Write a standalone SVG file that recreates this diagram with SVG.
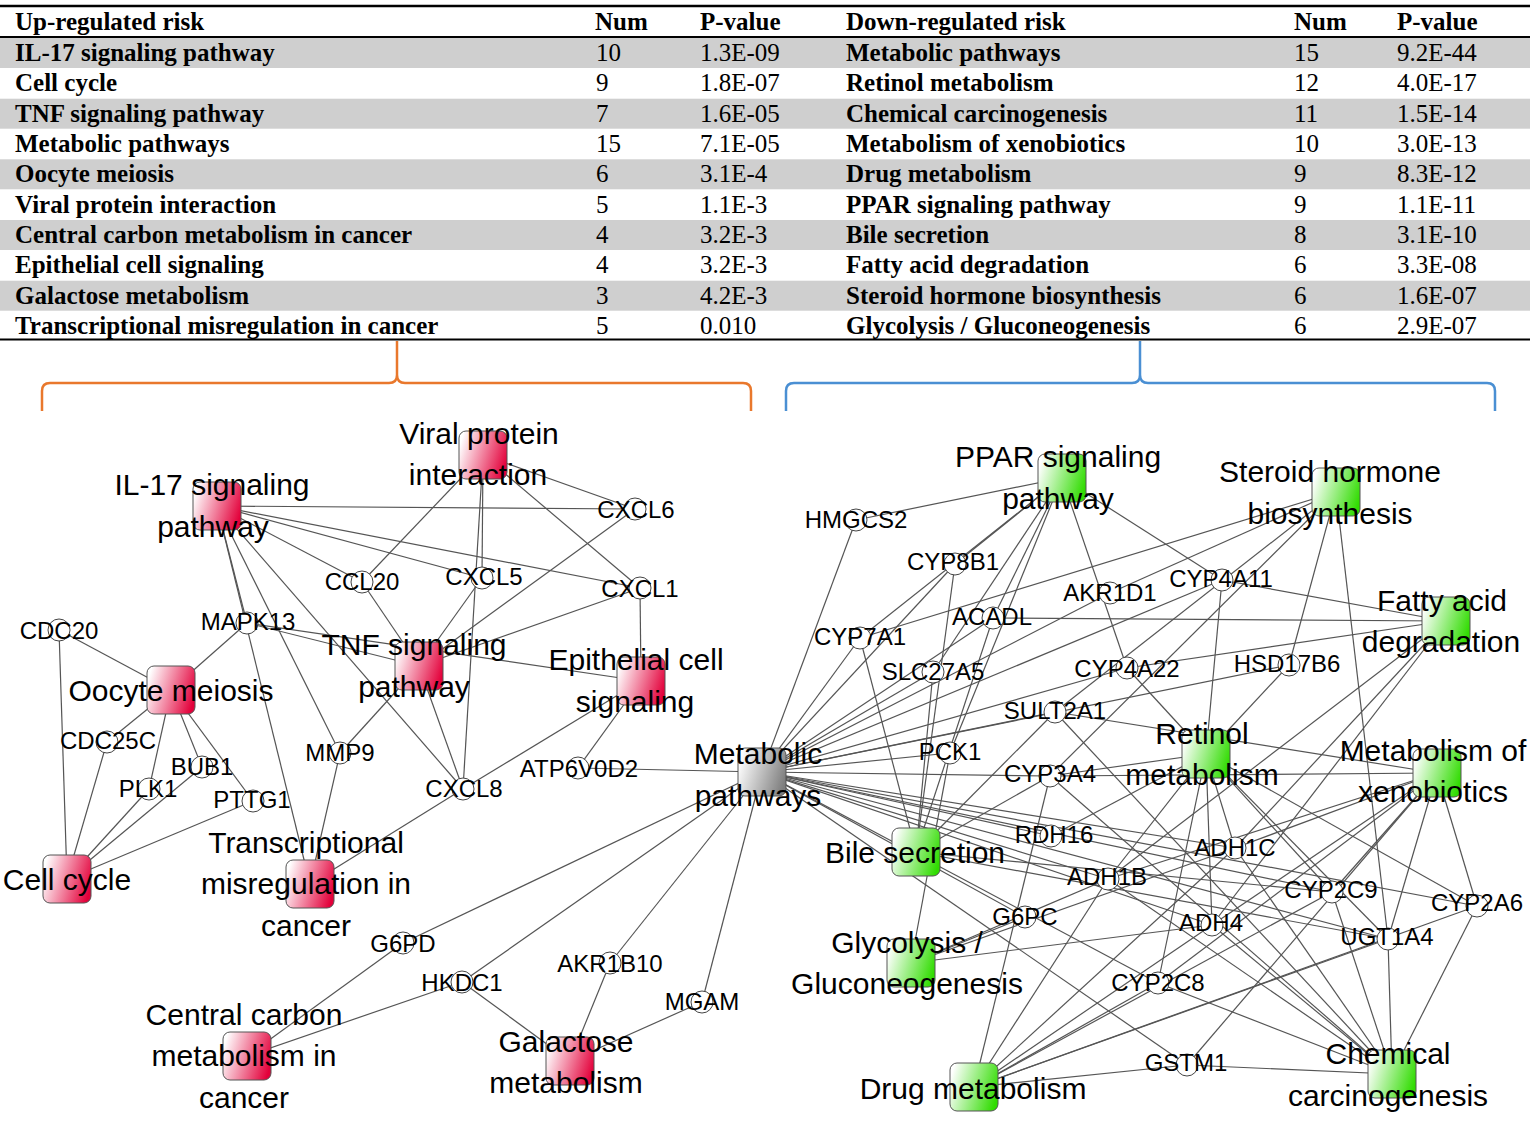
<svg xmlns="http://www.w3.org/2000/svg" width="1535" height="1121" viewBox="0 0 1535 1121">
<defs>
<linearGradient id="gr" x1="0" y1="0.35" x2="1" y2="0.65"><stop offset="0" stop-color="#ffffff"/><stop offset="1" stop-color="#e3003a"/></linearGradient>
<linearGradient id="gg" x1="0" y1="0.35" x2="1" y2="0.65"><stop offset="0" stop-color="#ffffff"/><stop offset="1" stop-color="#30dc00"/></linearGradient>
<linearGradient id="gy" x1="0" y1="0.35" x2="1" y2="0.65"><stop offset="0" stop-color="#ffffff"/><stop offset="1" stop-color="#7d7d7d"/></linearGradient>
<style>
.tb{font-family:"Liberation Serif","Times New Roman",serif;font-size:25px;font-weight:bold;fill:#000}
.tn{font-family:"Liberation Serif","Times New Roman",serif;font-size:25px;fill:#000}
.pl{font-family:"Liberation Sans",Arial,sans-serif;font-size:30px;text-anchor:middle;fill:#000}
.gl{font-family:"Liberation Sans",Arial,sans-serif;font-size:24px;text-anchor:middle;fill:#000}
.gene{fill:#fff;stroke:#444;stroke-width:1}
.red{fill:url(#gr);stroke:#555;stroke-width:1}
.grn{fill:url(#gg);stroke:#555;stroke-width:1}
.gry{fill:url(#gy);stroke:#555;stroke-width:1}
.band{fill:#cfcfcf}
.rule{stroke:#000;fill:none}
.edges line{stroke:#555;stroke-width:1.2}
.brace{fill:none;stroke-width:2.5;stroke-linejoin:round}
</style>
</defs>
<rect width="1535" height="1121" fill="#fff"/>

<g id="table">
<rect class="band" x="0" y="38" width="1530" height="30"/>
<rect class="band" x="0" y="98.7" width="1530" height="30"/>
<rect class="band" x="0" y="159.3" width="1530" height="30"/>
<rect class="band" x="0" y="220" width="1530" height="30"/>
<rect class="band" x="0" y="280.7" width="1530" height="30"/>
<line class="rule" x1="0" y1="6" x2="1530" y2="6" stroke-width="2.5"/>
<line class="rule" x1="0" y1="37" x2="1530" y2="37" stroke-width="2"/>
<line class="rule" x1="0" y1="339.5" x2="1530" y2="339.5" stroke-width="2"/>
<text class="tb" x="15" y="30">Up-regulated risk</text>
<text class="tb" x="595" y="30">Num</text>
<text class="tb" x="700" y="30">P-value</text>
<text class="tb" x="846" y="30">Down-regulated risk</text>
<text class="tb" x="1294" y="30">Num</text>
<text class="tb" x="1397" y="30">P-value</text>

<text class="tb" x="15" y="61">IL-17 signaling pathway</text><text class="tn" x="596" y="61">10</text><text class="tn" x="700" y="61">1.3E-09</text>
<text class="tb" x="846" y="61">Metabolic pathways</text><text class="tn" x="1294" y="61">15</text><text class="tn" x="1397" y="61">9.2E-44</text>

<text class="tb" x="15" y="91.3">Cell cycle</text><text class="tn" x="596" y="91.3">9</text><text class="tn" x="700" y="91.3">1.8E-07</text>
<text class="tb" x="846" y="91.3">Retinol metabolism</text><text class="tn" x="1294" y="91.3">12</text><text class="tn" x="1397" y="91.3">4.0E-17</text>

<text class="tb" x="15" y="121.7">TNF signaling pathway</text><text class="tn" x="596" y="121.7">7</text><text class="tn" x="700" y="121.7">1.6E-05</text>
<text class="tb" x="846" y="121.7">Chemical carcinogenesis</text><text class="tn" x="1294" y="121.7">11</text><text class="tn" x="1397" y="121.7">1.5E-14</text>

<text class="tb" x="15" y="152">Metabolic pathways</text><text class="tn" x="596" y="152">15</text><text class="tn" x="700" y="152">7.1E-05</text>
<text class="tb" x="846" y="152">Metabolism of xenobiotics</text><text class="tn" x="1294" y="152">10</text><text class="tn" x="1397" y="152">3.0E-13</text>

<text class="tb" x="15" y="182.3">Oocyte meiosis</text><text class="tn" x="596" y="182.3">6</text><text class="tn" x="700" y="182.3">3.1E-4</text>
<text class="tb" x="846" y="182.3">Drug metabolism</text><text class="tn" x="1294" y="182.3">9</text><text class="tn" x="1397" y="182.3">8.3E-12</text>

<text class="tb" x="15" y="212.7">Viral protein interaction</text><text class="tn" x="596" y="212.7">5</text><text class="tn" x="700" y="212.7">1.1E-3</text>
<text class="tb" x="846" y="212.7">PPAR signaling pathway</text><text class="tn" x="1294" y="212.7">9</text><text class="tn" x="1397" y="212.7">1.1E-11</text>

<text class="tb" x="15" y="243">Central carbon metabolism in cancer</text><text class="tn" x="596" y="243">4</text><text class="tn" x="700" y="243">3.2E-3</text>
<text class="tb" x="846" y="243">Bile secretion</text><text class="tn" x="1294" y="243">8</text><text class="tn" x="1397" y="243">3.1E-10</text>

<text class="tb" x="15" y="273.3">Epithelial cell signaling</text><text class="tn" x="596" y="273.3">4</text><text class="tn" x="700" y="273.3">3.2E-3</text>
<text class="tb" x="846" y="273.3">Fatty acid degradation</text><text class="tn" x="1294" y="273.3">6</text><text class="tn" x="1397" y="273.3">3.3E-08</text>

<text class="tb" x="15" y="303.7">Galactose metabolism</text><text class="tn" x="596" y="303.7">3</text><text class="tn" x="700" y="303.7">4.2E-3</text>
<text class="tb" x="846" y="303.7">Steroid hormone biosynthesis</text><text class="tn" x="1294" y="303.7">6</text><text class="tn" x="1397" y="303.7">1.6E-07</text>

<text class="tb" x="15" y="334">Transcriptional misregulation in cancer</text><text class="tn" x="596" y="334">5</text><text class="tn" x="700" y="334">0.010</text>
<text class="tb" x="846" y="334">Glycolysis / Gluconeogenesis</text><text class="tn" x="1294" y="334">6</text><text class="tn" x="1397" y="334">2.9E-07</text>
</g>

<g id="braces">
<path class="brace" stroke="#e9782c" d="M42,411 V391 Q42,383 50,383 H389 Q397,383 397,375 V341 M397,375 Q397,383 405,383 H743 Q751,383 751,391 V411"/>
<path class="brace" stroke="#4a8fd3" d="M786,411 V391 Q786,383 794,383 H1132 Q1140,383 1140,375 V341 M1140,375 Q1140,383 1148,383 H1487 Q1495,383 1495,391 V411"/>
</g>

<g id="connectors" class="edges">
<!-- IL-17 -->
<line x1="217" y1="506" x2="635" y2="509"/>
<line x1="217" y1="506" x2="640" y2="588"/>
<line x1="217" y1="506" x2="482" y2="578"/>
<line x1="217" y1="506" x2="362" y2="582"/>
<line x1="217" y1="506" x2="247" y2="623"/>
<line x1="217" y1="506" x2="340" y2="753"/>
<line x1="217" y1="506" x2="463" y2="789"/>
<line x1="217" y1="506" x2="310" y2="884"/>
<!-- Viral -->
<line x1="483" y1="455" x2="362" y2="582"/>
<line x1="483" y1="455" x2="482" y2="578"/>
<line x1="483" y1="455" x2="463" y2="789"/>
<line x1="483" y1="455" x2="635" y2="509"/>
<line x1="483" y1="455" x2="640" y2="588"/>
<!-- TNF -->
<line x1="419" y1="666" x2="362" y2="582"/>
<line x1="419" y1="666" x2="482" y2="578"/>
<line x1="419" y1="666" x2="635" y2="509"/>
<line x1="419" y1="666" x2="640" y2="588"/>
<line x1="419" y1="666" x2="247" y2="623"/>
<line x1="419" y1="666" x2="340" y2="753"/>
<line x1="419" y1="666" x2="463" y2="789"/>
<!-- Epithelial -->
<line x1="641" y1="681" x2="640" y2="588"/>
<line x1="641" y1="681" x2="247" y2="623"/>
<line x1="641" y1="681" x2="463" y2="789"/>
<line x1="641" y1="681" x2="578" y2="768"/>
<!-- Oocyte -->
<line x1="171" y1="690" x2="59" y2="630"/>
<line x1="171" y1="690" x2="247" y2="623"/>
<line x1="171" y1="690" x2="107" y2="742"/>
<line x1="171" y1="690" x2="149" y2="789"/>
<line x1="171" y1="690" x2="202" y2="767"/>
<line x1="171" y1="690" x2="253" y2="801"/>
<!-- Cell cycle -->
<line x1="67" y1="879" x2="59" y2="630"/>
<line x1="67" y1="879" x2="107" y2="742"/>
<line x1="67" y1="879" x2="149" y2="789"/>
<line x1="67" y1="879" x2="202" y2="767"/>
<line x1="67" y1="879" x2="253" y2="801"/>
<!-- Transcriptional -->
<line x1="310" y1="884" x2="340" y2="753"/>
<line x1="310" y1="884" x2="463" y2="789"/>
<!-- Central carbon -->
<line x1="247" y1="1056" x2="403" y2="943"/>
<line x1="247" y1="1056" x2="462" y2="982"/>
<!-- Galactose -->
<line x1="570" y1="1061" x2="462" y2="982"/>
<line x1="570" y1="1061" x2="610" y2="963"/>
<line x1="570" y1="1061" x2="702" y2="1002"/>
<!-- Metabolic left -->
<line x1="762" y1="772" x2="578" y2="768"/>
<line x1="762" y1="772" x2="403" y2="943"/>
<line x1="762" y1="772" x2="462" y2="982"/>
<line x1="762" y1="772" x2="610" y2="963"/>
<line x1="762" y1="772" x2="702" y2="1002"/>
<!-- Metabolic right -->
<line x1="762" y1="772" x2="856" y2="520"/>
<line x1="762" y1="772" x2="955" y2="564"/>
<line x1="762" y1="772" x2="860" y2="638"/>
<line x1="762" y1="772" x2="993" y2="618"/>
<line x1="762" y1="772" x2="1110" y2="593"/>
<line x1="762" y1="772" x2="1222" y2="580"/>
<line x1="762" y1="772" x2="933" y2="672"/>
<line x1="762" y1="772" x2="1127" y2="668"/>
<line x1="762" y1="772" x2="1289" y2="665"/>
<line x1="762" y1="772" x2="1055" y2="712"/>
<line x1="762" y1="772" x2="950" y2="753"/>
<line x1="762" y1="772" x2="1050" y2="776"/>
<line x1="762" y1="772" x2="1051" y2="836"/>
<line x1="762" y1="772" x2="1235" y2="848"/>
<line x1="762" y1="772" x2="1108" y2="879"/>
<line x1="762" y1="772" x2="1332" y2="892"/>
<line x1="762" y1="772" x2="1477" y2="906"/>
<line x1="762" y1="772" x2="1025" y2="917"/>
<line x1="762" y1="772" x2="1212" y2="925"/>
<line x1="762" y1="772" x2="1388" y2="939"/>
<line x1="762" y1="772" x2="1158" y2="983"/>
<line x1="762" y1="772" x2="1187" y2="1065"/>
<!-- PPAR -->
<line x1="1062" y1="478" x2="856" y2="520"/>
<line x1="1062" y1="478" x2="955" y2="564"/>
<line x1="1062" y1="478" x2="860" y2="638"/>
<line x1="1062" y1="478" x2="993" y2="618"/>
<line x1="1062" y1="478" x2="933" y2="672"/>
<line x1="1062" y1="478" x2="950" y2="753"/>
<line x1="1062" y1="478" x2="1222" y2="580"/>
<line x1="1062" y1="478" x2="1127" y2="668"/>
<!-- Steroid -->
<line x1="1336" y1="492" x2="860" y2="638"/>
<line x1="1336" y1="492" x2="1110" y2="593"/>
<line x1="1336" y1="492" x2="1289" y2="665"/>
<line x1="1336" y1="492" x2="1050" y2="776"/>
<line x1="1336" y1="492" x2="1388" y2="939"/>
<line x1="1336" y1="492" x2="1055" y2="712"/>
<!-- Fatty acid -->
<line x1="1446" y1="621" x2="993" y2="618"/>
<line x1="1446" y1="621" x2="1222" y2="580"/>
<line x1="1446" y1="621" x2="1127" y2="668"/>
<line x1="1446" y1="621" x2="1108" y2="879"/>
<line x1="1446" y1="621" x2="1235" y2="848"/>
<line x1="1446" y1="621" x2="1212" y2="925"/>
<!-- Retinol -->
<line x1="1206" y1="754" x2="1222" y2="580"/>
<line x1="1206" y1="754" x2="1127" y2="668"/>
<line x1="1206" y1="754" x2="1289" y2="665"/>
<line x1="1206" y1="754" x2="1051" y2="836"/>
<line x1="1206" y1="754" x2="1108" y2="879"/>
<line x1="1206" y1="754" x2="1235" y2="848"/>
<line x1="1206" y1="754" x2="1212" y2="925"/>
<line x1="1206" y1="754" x2="1050" y2="776"/>
<line x1="1206" y1="754" x2="1332" y2="892"/>
<line x1="1206" y1="754" x2="1158" y2="983"/>
<line x1="1206" y1="754" x2="1477" y2="906"/>
<line x1="1206" y1="754" x2="1388" y2="939"/>
<!-- Xenobiotics -->
<line x1="1437" y1="773" x2="1050" y2="776"/>
<line x1="1437" y1="773" x2="1332" y2="892"/>
<line x1="1437" y1="773" x2="1158" y2="983"/>
<line x1="1437" y1="773" x2="1477" y2="906"/>
<line x1="1437" y1="773" x2="1388" y2="939"/>
<line x1="1437" y1="773" x2="1187" y2="1065"/>
<line x1="1437" y1="773" x2="1108" y2="879"/>
<line x1="1437" y1="773" x2="1235" y2="848"/>
<line x1="1437" y1="773" x2="1212" y2="925"/>
<line x1="1437" y1="773" x2="1055" y2="712"/>
<!-- Bile -->
<line x1="916" y1="852" x2="860" y2="638"/>
<line x1="916" y1="852" x2="955" y2="564"/>
<line x1="916" y1="852" x2="933" y2="672"/>
<line x1="916" y1="852" x2="993" y2="618"/>
<line x1="916" y1="852" x2="1055" y2="712"/>
<line x1="916" y1="852" x2="1050" y2="776"/>
<line x1="916" y1="852" x2="1388" y2="939"/>
<line x1="916" y1="852" x2="1332" y2="892"/>
<!-- Glycolysis -->
<line x1="911" y1="963" x2="950" y2="753"/>
<line x1="911" y1="963" x2="1025" y2="917"/>
<line x1="911" y1="963" x2="1108" y2="879"/>
<line x1="911" y1="963" x2="1235" y2="848"/>
<line x1="911" y1="963" x2="1212" y2="925"/>
<!-- Drug -->
<line x1="974" y1="1087" x2="1050" y2="776"/>
<line x1="974" y1="1087" x2="1332" y2="892"/>
<line x1="974" y1="1087" x2="1158" y2="983"/>
<line x1="974" y1="1087" x2="1477" y2="906"/>
<line x1="974" y1="1087" x2="1388" y2="939"/>
<line x1="974" y1="1087" x2="1187" y2="1065"/>
<line x1="974" y1="1087" x2="1108" y2="879"/>
<line x1="974" y1="1087" x2="1235" y2="848"/>
<line x1="974" y1="1087" x2="1212" y2="925"/>
<!-- Chemical -->
<line x1="1392" y1="1074" x2="1050" y2="776"/>
<line x1="1392" y1="1074" x2="1332" y2="892"/>
<line x1="1392" y1="1074" x2="1158" y2="983"/>
<line x1="1392" y1="1074" x2="1477" y2="906"/>
<line x1="1392" y1="1074" x2="1388" y2="939"/>
<line x1="1392" y1="1074" x2="1187" y2="1065"/>
<line x1="1392" y1="1074" x2="1108" y2="879"/>
<line x1="1392" y1="1074" x2="1235" y2="848"/>
<line x1="1392" y1="1074" x2="1212" y2="925"/>
<line x1="1392" y1="1074" x2="1055" y2="712"/>
</g>

<!-- gene nodes -->
<g id="CXCL6"><circle class="gene" cx="635" cy="509" r="11"/><text class="gl" x="636" y="518">CXCL6</text></g>
<g id="CXCL1"><circle class="gene" cx="640" cy="588" r="11"/><text class="gl" x="640" y="597">CXCL1</text></g>
<g id="CXCL5"><circle class="gene" cx="482" cy="578" r="11"/><text class="gl" x="484" y="585">CXCL5</text></g>
<g id="CCL20"><circle class="gene" cx="362" cy="582" r="11"/><text class="gl" x="362" y="590">CCL20</text></g>
<g id="MAPK13"><circle class="gene" cx="247" cy="623" r="11"/><text class="gl" x="248" y="630">MAPK13</text></g>
<g id="CDC20"><circle class="gene" cx="59" cy="630" r="11"/><text class="gl" x="59" y="639">CDC20</text></g>
<g id="CDC25C"><circle class="gene" cx="107" cy="742" r="11"/><text class="gl" x="108" y="749">CDC25C</text></g>
<g id="BUB1"><circle class="gene" cx="202" cy="767" r="11"/><text class="gl" x="202" y="775">BUB1</text></g>
<g id="PLK1"><circle class="gene" cx="149" cy="789" r="11"/><text class="gl" x="148" y="797">PLK1</text></g>
<g id="PTTG1"><circle class="gene" cx="253" cy="801" r="11"/><text class="gl" x="252" y="808">PTTG1</text></g>
<g id="MMP9"><circle class="gene" cx="340" cy="753" r="11"/><text class="gl" x="340" y="761">MMP9</text></g>
<g id="CXCL8"><circle class="gene" cx="463" cy="789" r="11"/><text class="gl" x="464" y="797">CXCL8</text></g>
<g id="ATP6V0D2"><circle class="gene" cx="578" cy="768" r="11"/><text class="gl" x="579" y="777">ATP6V0D2</text></g>
<g id="G6PD"><circle class="gene" cx="403" cy="943" r="11"/><text class="gl" x="403" y="952">G6PD</text></g>
<g id="HKDC1"><circle class="gene" cx="462" cy="982" r="11"/><text class="gl" x="462" y="991">HKDC1</text></g>
<g id="AKR1B10"><circle class="gene" cx="610" cy="963" r="11"/><text class="gl" x="610" y="972">AKR1B10</text></g>
<g id="MGAM"><circle class="gene" cx="702" cy="1002" r="11"/><text class="gl" x="702" y="1010">MGAM</text></g>

<g id="HMGCS2"><circle class="gene" cx="856" cy="520" r="11"/><text class="gl" x="856" y="528">HMGCS2</text></g>
<g id="CYP8B1"><circle class="gene" cx="955" cy="564" r="11"/><text class="gl" x="953" y="570">CYP8B1</text></g>
<g id="CYP7A1"><circle class="gene" cx="860" cy="638" r="11"/><text class="gl" x="860" y="645">CYP7A1</text></g>
<g id="ACADL"><circle class="gene" cx="993" cy="618" r="11"/><text class="gl" x="992" y="625">ACADL</text></g>
<g id="AKR1D1"><circle class="gene" cx="1110" cy="593" r="11"/><text class="gl" x="1110" y="601">AKR1D1</text></g>
<g id="CYP4A11"><circle class="gene" cx="1222" cy="580" r="11"/><text class="gl" x="1221" y="587">CYP4A11</text></g>
<g id="SLC27A5"><circle class="gene" cx="933" cy="672" r="11"/><text class="gl" x="933" y="680">SLC27A5</text></g>
<g id="CYP4A22"><circle class="gene" cx="1127" cy="668" r="11"/><text class="gl" x="1127" y="677">CYP4A22</text></g>
<g id="HSD17B6"><circle class="gene" cx="1289" cy="665" r="11"/><text class="gl" x="1287" y="672">HSD17B6</text></g>
<g id="SULT2A1"><circle class="gene" cx="1055" cy="712" r="11"/><text class="gl" x="1055" y="719">SULT2A1</text></g>
<g id="PCK1"><circle class="gene" cx="950" cy="753" r="11"/><text class="gl" x="950" y="760">PCK1</text></g>
<g id="CYP3A4"><circle class="gene" cx="1050" cy="776" r="11"/><text class="gl" x="1050" y="782">CYP3A4</text></g>
<g id="RDH16"><circle class="gene" cx="1051" cy="836" r="11"/><text class="gl" x="1054" y="843">RDH16</text></g>
<g id="ADH1C"><circle class="gene" cx="1235" cy="848" r="11"/><text class="gl" x="1235" y="856">ADH1C</text></g>
<g id="ADH1B"><circle class="gene" cx="1108" cy="879" r="11"/><text class="gl" x="1107" y="885">ADH1B</text></g>
<g id="CYP2C9"><circle class="gene" cx="1332" cy="892" r="11"/><text class="gl" x="1331" y="898">CYP2C9</text></g>
<g id="CYP2A6"><circle class="gene" cx="1477" cy="906" r="11"/><text class="gl" x="1477" y="911">CYP2A6</text></g>
<g id="G6PC"><circle class="gene" cx="1025" cy="917" r="11"/><text class="gl" x="1025" y="925">G6PC</text></g>
<g id="ADH4"><circle class="gene" cx="1212" cy="925" r="11"/><text class="gl" x="1211" y="931">ADH4</text></g>
<g id="UGT1A4"><circle class="gene" cx="1388" cy="939" r="11"/><text class="gl" x="1387" y="945">UGT1A4</text></g>
<g id="CYP2C8"><circle class="gene" cx="1158" cy="983" r="11"/><text class="gl" x="1158" y="991">CYP2C8</text></g>
<g id="GSTM1"><circle class="gene" cx="1187" cy="1065" r="11"/><text class="gl" x="1186" y="1071">GSTM1</text></g>

<!-- pathway nodes -->
<g id="IL17"><rect class="red" x="193" y="482" width="48" height="48" rx="7"/><text class="pl" x="212" y="495">IL-17 signaling</text><text class="pl" x="213" y="537">pathway</text></g>
<g id="Viral"><rect class="red" x="459" y="431" width="48" height="48" rx="7"/><text class="pl" x="479" y="444">Viral protein</text><text class="pl" x="478" y="485">interaction</text></g>
<g id="TNF"><rect class="red" x="395" y="642" width="48" height="48" rx="7"/><text class="pl" x="414" y="655">TNF signaling</text><text class="pl" x="414" y="697">pathway</text></g>
<g id="Epithelial"><rect class="red" x="617" y="657" width="48" height="48" rx="7"/><text class="pl" x="636" y="670">Epithelial cell</text><text class="pl" x="635" y="712">signaling</text></g>
<g id="Oocyte"><rect class="red" x="147" y="666" width="48" height="48" rx="7"/><text class="pl" x="171" y="701">Oocyte meiosis</text></g>
<g id="CellCycle"><rect class="red" x="43" y="855" width="48" height="48" rx="7"/><text class="pl" x="67" y="890">Cell cycle</text></g>
<g id="Transcriptional"><rect class="red" x="286" y="860" width="48" height="48" rx="7"/><text class="pl" x="306" y="853">Transcriptional</text><text class="pl" x="306" y="894">misregulation in</text><text class="pl" x="306" y="936">cancer</text></g>
<g id="CentralCarbon"><rect class="red" x="223" y="1032" width="48" height="48" rx="7"/><text class="pl" x="244" y="1025">Central carbon</text><text class="pl" x="244" y="1066">metabolism in</text><text class="pl" x="244" y="1108">cancer</text></g>
<g id="Galactose"><rect class="red" x="546" y="1037" width="48" height="48" rx="7"/><text class="pl" x="566" y="1052">Galactose</text><text class="pl" x="566" y="1093">metabolism</text></g>
<g id="Metabolic"><rect class="gry" x="738" y="748" width="48" height="48" rx="7"/><text class="pl" x="758" y="764">Metabolic</text><text class="pl" x="758" y="806">pathways</text></g>

<g id="PPAR"><rect class="grn" x="1038" y="454" width="48" height="48" rx="7"/><text class="pl" x="1058" y="467">PPAR signaling</text><text class="pl" x="1058" y="509">pathway</text></g>
<g id="Steroid"><rect class="grn" x="1312" y="468" width="48" height="48" rx="7"/><text class="pl" x="1330" y="482">Steroid hormone</text><text class="pl" x="1330" y="524">biosynthesis</text></g>
<g id="FattyAcid"><rect class="grn" x="1422" y="597" width="48" height="48" rx="7"/><text class="pl" x="1442" y="611">Fatty acid</text><text class="pl" x="1441" y="652">degradation</text></g>
<g id="Retinol"><rect class="grn" x="1182" y="730" width="48" height="48" rx="7"/><text class="pl" x="1202" y="744">Retinol</text><text class="pl" x="1202" y="785">metabolism</text></g>
<g id="Xenobiotics"><rect class="grn" x="1413" y="749" width="48" height="48" rx="7"/><text class="pl" x="1433" y="761">Metabolism of</text><text class="pl" x="1433" y="802">xenobiotics</text></g>
<g id="Bile"><rect class="grn" x="892" y="828" width="48" height="48" rx="7"/><text class="pl" x="915" y="863">Bile secretion</text></g>
<g id="Glycolysis"><rect class="grn" x="887" y="939" width="48" height="48" rx="7"/><text class="pl" x="907" y="953">Glycolysis /</text><text class="pl" x="907" y="994">Gluconeogenesis</text></g>
<g id="Drug"><rect class="grn" x="950" y="1063" width="48" height="48" rx="7"/><text class="pl" x="973" y="1099">Drug metabolism</text></g>
<g id="Chemical"><rect class="grn" x="1368" y="1050" width="48" height="48" rx="7"/><text class="pl" x="1388" y="1064">Chemical</text><text class="pl" x="1388" y="1106">carcinogenesis</text></g>
</svg>
